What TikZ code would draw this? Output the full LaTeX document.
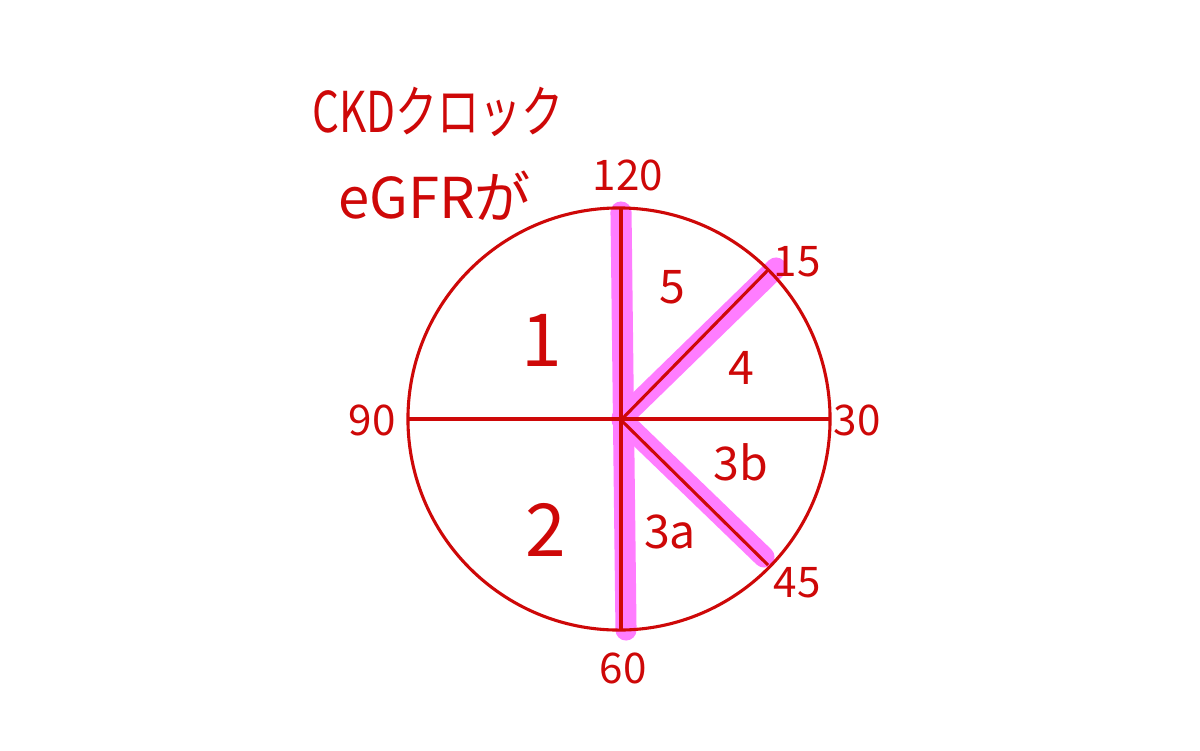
\documentclass[tikz,border=0pt]{standalone}
\usepackage{fontspec}
\setmainfont{Noto Sans CJK JP}
\definecolor{pen}{RGB}{206,8,8}
\definecolor{hl}{RGB}{255,125,255}
\begin{document}
\begin{tikzpicture}[x=0.025cm,y=-0.025cm,
  pen/.style={draw=pen,line width=2.2pt},
  hilite/.style={draw=hl,line width=15pt,line cap=round},
  lab/.style={text=pen,font=\fontsize{30}{32}\selectfont,inner sep=0pt},
  big/.style={text=pen,font=\fontsize{52}{54}\selectfont,inner sep=0pt},
  mid/.style={text=pen,font=\fontsize{33}{35}\selectfont,inner sep=0pt},
  title/.style={text=pen,font=\fontsize{40}{42}\selectfont,inner sep=0pt,anchor=west}]
\useasboundingbox (0,0) rectangle (1200,750);
\fill[white] (0,0) rectangle (1200,750);
\node[circle,minimum size=10.55cm,inner sep=0pt] (clock) at (619,419) {};
\coordinate (c) at (621,420);
\coordinate (top) at (621,208);
\coordinate (bot) at (621,630);
\coordinate (ne) at (768,270);
\coordinate (se) at (768,565);
% highlight
\draw[hilite] (621,212) -- (626,630);
\draw[hilite] (622,418) -- (776,268);
\draw[hilite] (622,420) -- (764,557);
% red pen
\draw[pen] (clock.center) circle[radius=5.275cm];
\draw[pen] (clock.west) -- (clock.east);
\draw[pen] (top) -- (bot);
\draw[pen] (c) -- (ne);
\draw[pen] (c) -- (se);
% labels
\node[lab] (l120) at (628,175) {120};
\node[lab] (l15) at (797,262) {15};
\node[lab] (l90) at (372,420) {90};
\node[lab] (l30) at (857,420) {30};
\node[lab] (l45) at (797,583) {45};
\node[lab] (l60) at (623,668) {60};
\node[big] (s1) at (542,340) {1};
\node[big] (s2) at (546,530) {2};
\node[mid] (s5) at (672,287) {5};
\node[mid] (s4) at (741,368) {4};
\node[mid] (s3b) at (741,462) {3b};
\node[mid] (s3a) at (670,532) {3a};
\node[title,xscale=0.75] (t1) at (312,112) {CKDクロック};
\node[title] (t2) at (338,196) {eGFRが};
\end{tikzpicture}
\end{document}
